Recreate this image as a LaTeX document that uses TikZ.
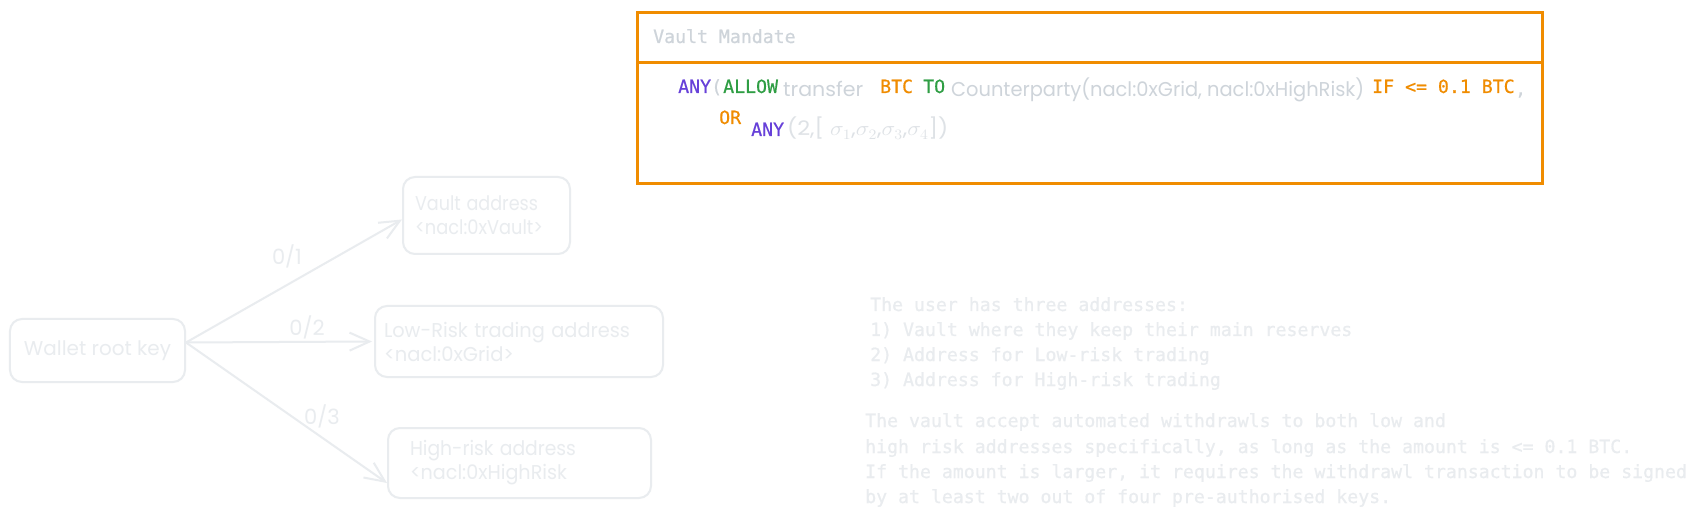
\documentclass[tikz,border=0pt]{standalone}
\usepackage{fontspec}
\setmainfont{Poppins}
\newfontfamily\codefont[FakeBold=0.6]{DejaVu Sans Mono}
\usetikzlibrary{arrows.meta}
\definecolor{morange}{HTML}{F08C00}
\definecolor{mviolet}{HTML}{6741D9}
\definecolor{mgreen}{HTML}{2F9E44}
\definecolor{mgray}{HTML}{CED4DA}
\definecolor{lgray}{HTML}{DEE2E6}
\definecolor{pale}{HTML}{E9ECEF}
\newcommand\fitw[2]{\resizebox{#1}{\height}{#2}}
\begin{document}
\begin{tikzpicture}[x=1bp,y=-1bp,
  addrbox/.style={draw=pale, line width=2bp, rounded corners=12bp, text=pale,
    font=\fontsize{20bp}{24bp}\selectfont, inner ysep=0pt},
  link/.style={draw=pale, line width=2bp, -{Straight Barb[length=20bp,width=18bp]}},
  lbl/.style={text=pale, font=\fontsize{21bp}{24bp}\selectfont, inner sep=0pt},
  codetxt/.style={font=\codefont\fontsize{18.2bp}{22bp}\selectfont, inner sep=0pt, anchor=base west},
  hand/.style={font=\fontsize{20bp}{24bp}\selectfont, inner sep=0pt, anchor=base west},
  notetxt/.style={codetxt, text=pale},
  mandbox/.style={draw=morange, line width=3bp, inner sep=0pt},
]
\useasboundingbox (0,0) rectangle (1699,518);
\fill[white] (0,0) rectangle (1699,518);

% ---- Vault mandate box ----
\node[mandbox, minimum width=905bp, minimum height=171bp, anchor=north west] (mandate) at (636,11) {};
\draw[morange, line width=3bp] ([yshift=-51.5bp]mandate.north west) -- ([yshift=-51.5bp]mandate.north east);
\node[codetxt, text=mgray] (title) at (653,43) {Vault Mandate};

\node[codetxt, text=mviolet] (any1) at (678,93) {ANY};
\node[codetxt, text=mgray] (par1) at (711,93) {(};
\node[codetxt, text=mgreen] (allow) at (723,93) {ALLOW};
\node[hand, text=mgray] (transfer) at (783,97) {\fitw{80bp}{transfer}};
\node[codetxt, text=morange] (btc1) at (880,93) {BTC};
\node[codetxt, text=mgreen] (to) at (923,93) {TO};
\node[hand, text=mgray] (cp) at (951,97) {\fitw{413bp}{Counterparty(nacl:0xGrid, nacl:0xHighRisk)}};
\node[codetxt, text=morange] (cond) at (1372,93) {IF <= 0.1 BTC};
\node[codetxt, text=mgray] (comma) at (1515,95) {,};

\node[codetxt, text=morange] (or) at (719,124) {OR};
\node[codetxt, text=mviolet] (any2) at (751,136) {ANY};
\node[hand, text=lgray] (sig) at (787,136) {\fitw{161bp}{(2,[ $\sigma_1$,$\sigma_2$,$\sigma_3$,$\sigma_4$])}};

% ---- key derivation diagram ----
\node[addrbox, minimum width=175bp, minimum height=63bp, align=center] (wallet) at (97.5,350.5) {\fitw{147bp}{Wallet root key}};
\node[addrbox, minimum height=77bp, text width=143bp, inner xsep=12bp, align=left] (vault) at (486.5,215.5)
  {\fitw{123bp}{Vault address}\\\fitw{128bp}{<nacl:0xVault>}};
\node[addrbox, minimum height=71bp, text width=270bp, inner xsep=9bp, align=left] (low) at (519,341.5)
  {\fitw{246bp}{Low-Risk trading address}\\\fitw{130bp}{<nacl:0xGrid>}};
\node[addrbox, minimum height=70bp, text width=219bp, inner xsep=22bp, align=left] (high) at (519.5,463)
  {\fitw{166bp}{High-risk address}\\\fitw{157bp}{<nacl:0xHighRisk}};

\coordinate (src) at ([yshift=8bp]wallet.east);
\draw[link] (src) -- ([yshift=-4bp]vault.west);
\draw[link] (src) -- ([xshift=-2bp]low.west);
\draw[link] (src) -- ([yshift=-20bp]high.west);

\node[lbl] (l1) at (287,256) {0/1};
\node[lbl] (l2) at (307,327) {0/2};
\node[lbl] (l3) at (322,416) {0/3};

% ---- notes ----
\node[notetxt] (n1) at (870,311) {The user has three addresses:};
\node[notetxt] (n2) at (870,336) {1) Vault where they keep their main reserves};
\node[notetxt] (n3) at (870,361) {2) Address for Low-risk trading};
\node[notetxt] (n4) at (870,386) {3) Address for High-risk trading};
\node[notetxt] (n5) at (865,427) {The vault accept automated withdrawls to both low and};
\node[notetxt] (n6) at (865,453) {high risk addresses specifically, as long as the amount is <= 0.1 BTC.};
\node[notetxt] (n7) at (865,478) {If the amount is larger, it requires the withdrawl transaction to be signed};
\node[notetxt] (n8) at (865,503) {by at least two out of four pre-authorised keys.};
\end{tikzpicture}
\end{document}
